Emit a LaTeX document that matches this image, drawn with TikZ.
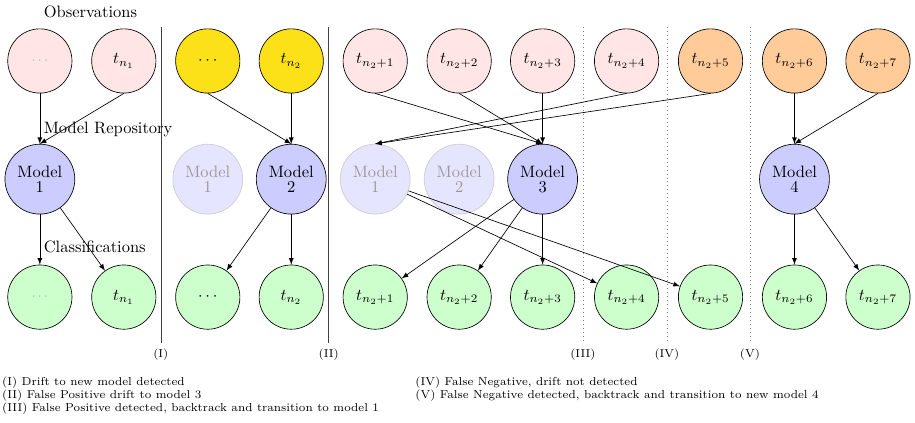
\documentclass[tikz,border=0pt]{standalone}
\usetikzlibrary{arrows}
\definecolor{driftyellow}{RGB}{252,225,25}

\begin{document}
\begin{tikzpicture}[
    obsnode/.style={draw,circle,fill=red!10,minimum size=1.37cm,inner sep=0pt},
    clsnode/.style={draw,circle,fill=green!20,minimum size=1.37cm,inner sep=0pt},
    modelnode/.style={draw,circle,fill=blue!20,minimum size=1.49cm,inner sep=0pt,align=center},
    oldmodel/.style={modelnode,draw=gray!40,fill=blue!10,text=gray!80},
    divider/.style={draw=black!75},
    guess/.style={draw=gray,dotted},
]
    \useasboundingbox (0,0) rectangle (19.51,9.0);

    % Headings
    \node[anchor=west] (hobs) at (0.81,8.74) {Observations};
    \node[anchor=west] (hrep) at (0.81,6.25) {Model Repository};
    \node[anchor=west] (hcls) at (0.81,3.73) {Classifications};

    % Observations
    \node[obsnode,text=gray!70] (o0) at (0.85,7.70) {\scriptsize$\cdots$};
    \node[obsnode] (o1) at (2.64,7.70) {$t_{n_1}$};
    \node[obsnode,fill=driftyellow] (o2) at (4.43,7.70) {$\cdots$};
    \node[obsnode,fill=driftyellow] (o3) at (6.21,7.70) {$t_{n_2}$};
    \node[obsnode] (o4) at (8.00,7.70) {$t_{n_2+1}$};
    \node[obsnode] (o5) at (9.79,7.70) {$t_{n_2+2}$};
    \node[obsnode] (o6) at (11.57,7.70) {$t_{n_2+3}$};
    \node[obsnode] (o7) at (13.36,7.70) {$t_{n_2+4}$};
    \node[obsnode,fill=orange!40] (o8) at (15.15,7.70) {$t_{n_2+5}$};
    \node[obsnode,fill=orange!40] (o9) at (16.94,7.70) {$t_{n_2+6}$};
    \node[obsnode,fill=orange!40] (o10) at (18.72,7.70) {$t_{n_2+7}$};

    % Models
    \node[modelnode] (m1) at (0.85,5.18) {Model\\[-3pt]1};
    \node[oldmodel] (m1b) at (4.43,5.18) {Model\\[-3pt]1};
    \node[modelnode] (m2) at (6.21,5.18) {Model\\[-3pt]2};
    \node[oldmodel] (m1c) at (8.00,5.18) {Model\\[-3pt]1};
    \node[oldmodel] (m2b) at (9.79,5.18) {Model\\[-3pt]2};
    \node[modelnode] (m3) at (11.57,5.18) {Model\\[-3pt]3};
    \node[modelnode] (m4) at (16.94,5.18) {Model\\[-3pt]4};

    % Classifications
    \node[clsnode,text=gray!70] (c0) at (0.85,2.665) {\scriptsize$\cdots$};
    \node[clsnode] (c1) at (2.64,2.665) {$t_{n_1}$};
    \node[clsnode] (c2) at (4.43,2.665) {$\cdots$};
    \node[clsnode] (c3) at (6.21,2.665) {$t_{n_2}$};
    \node[clsnode] (c4) at (8.00,2.665) {$t_{n_2+1}$};
    \node[clsnode] (c5) at (9.79,2.665) {$t_{n_2+2}$};
    \node[clsnode] (c6) at (11.57,2.665) {$t_{n_2+3}$};
    \node[clsnode] (c7) at (13.36,2.665) {$t_{n_2+4}$};
    \node[clsnode] (c8) at (15.15,2.665) {$t_{n_2+5}$};
    \node[clsnode] (c9) at (16.94,2.665) {$t_{n_2+6}$};
    \node[clsnode] (c10) at (18.72,2.665) {$t_{n_2+7}$};

    % Observations to models
    \draw[-latex] (o0.south) -- (m1.north);
    \draw[-latex] (o1.south) -- (m1.north);
    \draw[-latex] (o2.south) -- (m2.north);
    \draw[-latex] (o3.south) -- (m2.north);
    \draw[-latex] (o4.south) -- (m3.north);
    \draw[-latex] (o5.south) -- (m3.north);
    \draw[-latex] (o6.south) -- (m3.north);
    \draw[-latex] (o7.south) -- (m1c.north);
    \draw[-latex] (o8.south) -- (m1c.north);
    \draw[-latex] (o9.south) -- (m4.north);
    \draw[-latex] (o10.south) -- (m4.north);

    % Models to classifications
    \draw[-latex] (m1) -- (c0);
    \draw[-latex] (m1) -- (c1);
    \draw[-latex] (m2) -- (c2);
    \draw[-latex] (m2) -- (c3);
    \draw[-latex] (m3) -- (c4);
    \draw[-latex] (m3) -- (c5);
    \draw[-latex] (m3) -- (c6);
    \draw[-latex] (m1c) -- (c7);
    \draw[-latex] (m1c) -- (c8);
    \draw[-latex] (m4) -- (c9);
    \draw[-latex] (m4) -- (c10);

    % Drift events
    \coordinate (e1top) at (3.43,8.42);
    \coordinate (e1bot) at (3.43,1.68);
    \coordinate (e2top) at (7.01,8.42);
    \coordinate (e2bot) at (7.01,1.68);
    \coordinate (e3top) at (12.43,8.42);
    \coordinate (e3bot) at (12.43,1.68);
    \coordinate (e4top) at (14.22,8.42);
    \coordinate (e4bot) at (14.22,1.68);
    \coordinate (e5top) at (15.99,8.42);
    \coordinate (e5bot) at (15.99,1.68);
    \draw[divider] (e1top) -- (e1bot) node[below,font=\scriptsize] (l1) {(I)};
    \draw[divider] (e2top) -- (e2bot) node[below,font=\scriptsize] (l2) {(II)};
    \draw[guess] (e3top) -- (e3bot) node[below,font=\scriptsize] (l3) {(III)};
    \draw[guess] (e4top) -- (e4bot) node[below,font=\scriptsize] (l4) {(IV)};
    \draw[guess] (e5top) -- (e5bot) node[below,font=\scriptsize] (l5) {(V)};

    % Legend
    \node[anchor=north west,align=left,inner sep=0pt,font=\scriptsize] (leg1) at (0.04,0.98)
        {(I) Drift to new model detected\\
         (II) False Positive drift to model 3\\
         (III) False Positive detected, backtrack and transition to model 1};
    \node[anchor=north west,align=left,inner sep=0pt,font=\scriptsize] (leg2) at (8.85,0.98)
        {(IV) False Negative, drift not detected\\
         (V) False Negative detected, backtrack and transition to new model 4};
\end{tikzpicture}
\end{document}
